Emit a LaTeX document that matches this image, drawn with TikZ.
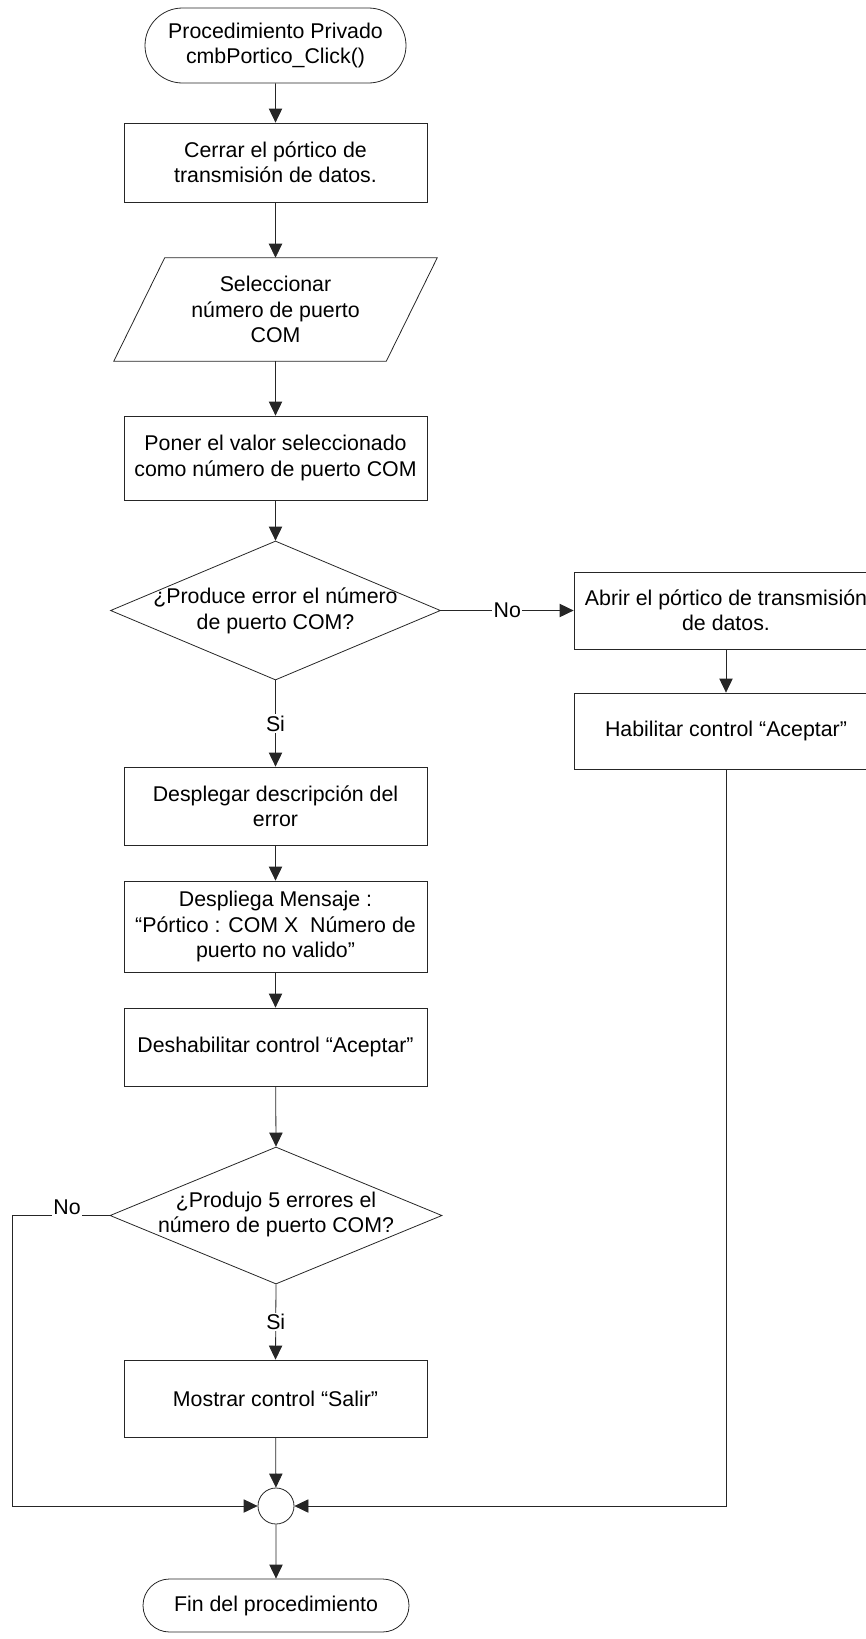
\documentclass[tikz,border=0pt]{standalone}
\usepackage{fontspec}
\setmainfont{Liberation Sans}
\usetikzlibrary{shapes.geometric,shapes.misc,arrows.meta,calc}

\begin{document}
\begin{tikzpicture}[x=0.75pt,y=-0.75pt,
  every node/.style={font=\fontsize{16}{19}\selectfont, align=center},
  line/.style={draw=black!85, line width=0.6pt},
  flow/.style={line, -{Triangle[length=10.5pt,width=10pt]}},
  procbox/.style={line, rectangle, inner sep=0pt, minimum width=227.25pt},
  term/.style={line, rounded rectangle, inner sep=0pt},
  decision/.style={line, diamond, inner sep=0pt},
  lbl/.style={fill=white, inner sep=1pt},
  junction/.style={line, circle, inner sep=0pt, minimum size=27pt}
]
\useasboundingbox (0,0) rectangle (866,1639);

% main column
\node[term, minimum width=195.75pt, minimum height=56.25pt] (start) at (275.5,45.5)
  {Procedimiento Privado\\cmbPortico\_Click()};
\node[procbox, minimum height=59.25pt] (cerrar) at (275.5,162.5)
  {Cerrar el pórtico de\\transmisión de datos.};

% input parallelogram: invisible frame + slanted outline
\node[inner sep=0pt, minimum width=204pt, minimum height=77.25pt] (sel) at (275.5,309.5)
  {Seleccionar\\número de puerto\\COM};
\draw[line] ($(sel.north west)+(25.5,0)$) -- ($(sel.north east)+(25.5,0)$)
  -- ($(sel.south east)-(25.5,0)$) -- ($(sel.south west)-(25.5,0)$) -- cycle;

\node[procbox, minimum height=63pt] (poner) at (275.5,458)
  {Poner el valor seleccionado\\como número de puerto COM};

\node[decision, minimum width=247.5pt, minimum height=104.25pt] (dec1) at (275.5,610.5) {};
\node (dec1t) at (275.5,611) {¿Produce error el número\\de puerto COM?};

\node[procbox, minimum height=58.5pt] (desc) at (275.5,806)
  {Desplegar descripción del\\error};
\node[procbox, minimum height=68.25pt] (msg) at (275.5,926.5)
  {Despliega Mensaje :\\“Pórtico : COM X\ \ Número de\\puerto no valido”};
\node[procbox, minimum height=58.5pt] (desh) at (275.5,1047)
  {Deshabilitar control “Aceptar”};

\node[decision, minimum width=249pt, minimum height=102.75pt] (dec2) at (276,1215.5) {};
\node (dec2t) at (276,1214.5) {¿Produjo 5 errores el\\número de puerto COM?};

\node[procbox, minimum height=57.75pt] (salir) at (275.5,1398.5)
  {Mostrar control “Salir”};

\node[junction] (join) at (276,1506) {};
\node[term, minimum width=199.5pt, minimum height=39.75pt] (fin) at (276,1605.5)
  {Fin del procedimiento};

% right column
\node[procbox, minimum width=228pt, minimum height=57.75pt] (abrir) at (726,610.5)
  {Abrir el pórtico de transmisión\\de datos.};
\node[procbox, minimum width=228pt, minimum height=57pt] (habil) at (726,731)
  {Habilitar control “Aceptar”};

% connectors
\draw[flow] (start) -- (cerrar);
\draw[flow] (cerrar) -- (sel.north);
\draw[flow] (sel.south) -- (poner);
\draw[flow] (poner) -- (dec1);
\draw[flow] (dec1.east) -- node[lbl] (no1) {No} (abrir.west);
\draw[flow] (dec1.south) -- node[lbl] (si1) {Si} (desc.north);
\draw[flow] (abrir) -- (habil);
\draw[flow] (desc) -- (msg);
\draw[flow] (msg) -- (desh);
\draw[flow] (desh) -- (dec2.north);
\draw[flow] (dec2.south) -- node[lbl] (si2) {Si} (salir.north);
\draw[flow] (salir) -- (join);
\draw[flow] (join) -- (fin);

\coordinate (lcorner) at (12,1215.5);
\coordinate (rcorner) at (726,1506);
\draw[flow] (dec2.west) -- (lcorner) |- (join.west);
\node[lbl] (no2) at (67,1207) {No};
\draw[flow] (habil.south) -- (rcorner) -- (join.east);
\end{tikzpicture}
\end{document}
